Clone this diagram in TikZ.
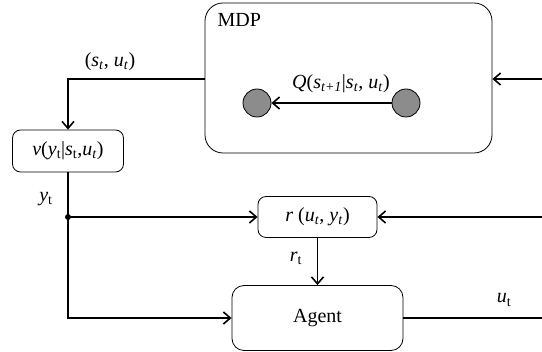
\documentclass[tikz,border=0pt]{standalone}
\usepackage{fontspec}
\setmainfont{Liberation Serif}
\usetikzlibrary{arrows.meta}
\usetikzlibrary{positioning}
\usetikzlibrary{calc}
\definecolor{dotgray}{RGB}{140,140,140}
\newcommand{\tsub}[1]{\textsubscript{#1}}
\newcommand{\isub}[1]{\textsubscript{\textit{#1}}}

\begin{document}
\begin{tikzpicture}[x=1pt,y=-1pt,font=\fontsize{20}{24}\selectfont,
	box/.style={draw, rounded corners=8pt, inner sep=0pt, line width=0.8pt},
	state/.style={circle, draw, fill=dotgray, minimum size=28pt, inner sep=0pt, line width=0.8pt},
	link/.style={line width=1.6pt},
	flow/.style={link, -{Straight Barb[length=7pt,width=12pt,line width=1.6pt]}}]
	
	\useasboundingbox (0,0) rectangle (542,352);
	
	% MDP block
	\node[box, rounded corners=18pt, minimum width=287pt, minimum height=150pt] (mdp) at (348.5,78) {};
	\node[anchor=west] (mdplabel) at (214,20) {MDP};
	\node[state] (snext) at (257,103) {};
	\node[state] (scur) at (406,103) {};
	\draw[flow] (scur) -- (snext);
	\node (qlabel) at (341,84) {\textit{Q}(\textit{s}\isub{t+1}|\textit{s}\isub{t}, \textit{u}\isub{t})};
	
	% blocks
	\node[box, minimum width=111pt, minimum height=42pt] (obs) at (68,151) {\textit{v}(\textit{y}\tsub{t}|\textit{s}\tsub{t},\textit{u}\isub{t})};
	\node[box, minimum width=119pt, minimum height=41pt] (rew) at (317.5,217) {\textit{r} (\textit{u}\isub{t}, \textit{y}\isub{t})};
	\node[box, rounded corners=12pt, minimum width=171pt, minimum height=65pt] (agent) at (317.5,318) {Agent};
	
	\coordinate (corner) at (68,79);
	\coordinate (split) at (68,217);
	\coordinate (min) at (542,79);
	\coordinate (rin) at (542,217);
	\coordinate (aout) at (542,318);
	
	% connectors
	\draw[flow] (mdp.west |- corner) -| (obs.north);
	\node (stu) at (110,62) {(\textit{s}\isub{t}, \textit{u}\isub{t})};
	\draw[flow] (obs.south) |- (agent.west);
	\fill (split) circle (3pt);
	\node (yt) at (46,199) {\textit{y}\tsub{t}};
	\draw[flow] (split) -- (rew.west);
	\draw[flow] (rin) -- (rew.east);
	\draw[flow] (rew.south) -- (agent.north);
	\node (rt) at (296,258) {\textit{r}\tsub{t}};
	\draw[flow] (min) -- (mdp.east |- min);
	\draw[link] (agent.east) -- (aout);
	\node (ut) at (504,300) {\textit{u}\tsub{t}};
	
\end{tikzpicture}
\end{document}
